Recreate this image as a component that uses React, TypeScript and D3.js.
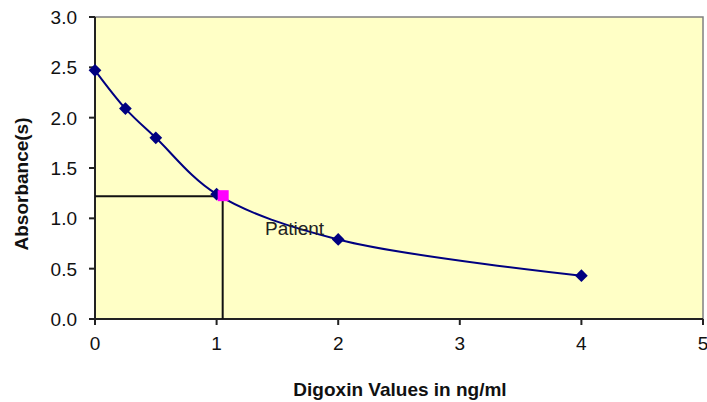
import React from 'react';
import * as d3 from 'd3';

const digoxin = [0, 0.25, 0.5, 1, 2, 4];
const absorbance = [2.47, 2.09, 1.8, 1.24, 0.79, 0.43];
const patient = { x: 1.05, y: 1.22, label: 'Patient' };
const xTicks = [0, 1, 2, 3, 4, 5];
const yTicks = [0, 0.5, 1, 1.5, 2, 2.5, 3];

const W = 707;
const H = 402;
const margin = { top: 17, right: 4, bottom: 83, left: 95 };

const App = () => {
  const x = d3.scaleLinear().domain([0, 5]).range([margin.left, W - margin.right]);
  const y = d3.scaleLinear().domain([0, 3]).range([H - margin.bottom, margin.top]);

  const pts = digoxin.map((d, i) => [d, absorbance[i]] as [number, number]);
  const line = d3.line<[number, number]>()
    .x(d => x(d[0]))
    .y(d => y(d[1]))
    .curve(d3.curveCatmullRom.alpha(0.5));

  const font = 'Liberation Sans, Arial, sans-serif';
  const x0 = x(0), y0 = y(0);

  return (
    <svg width={W} height={H} style={{ position: 'absolute', left: 0, top: 0 }} fontFamily={font}>
      <rect x={x0} y={y(3)} width={x(5) - x0} height={y0 - y(3)} fill="#ffffc6" stroke="#808080" strokeWidth={1.5} />
      {/* axes */}
      <line x1={x0} x2={x0} y1={y(3)} y2={y0} stroke="#222" strokeWidth={2} />
      <line x1={x0} x2={x(5)} y1={y0} y2={y0} stroke="#222" strokeWidth={2} />
      {yTicks.map(t => (
        <g key={'y' + t}>
          <line x1={x0 - 6} x2={x0} y1={y(t)} y2={y(t)} stroke="#222" strokeWidth={2} />
          <text x={x0 - 18} y={y(t)} dy="0.36em" textAnchor="end" fontSize={19} fill="#111">{t.toFixed(1)}</text>
        </g>
      ))}
      {xTicks.map(t => (
        <g key={'x' + t}>
          <line x1={x(t)} x2={x(t)} y1={y0} y2={y0 + 6} stroke="#222" strokeWidth={2} />
          <text x={x(t)} y={y0 + 31} textAnchor="middle" fontSize={19} fill="#111">{t}</text>
        </g>
      ))}
      {/* patient guide lines */}
      <line x1={x0} x2={x(patient.x)} y1={y(patient.y)} y2={y(patient.y)} stroke="#111" strokeWidth={2} />
      <line x1={x(patient.x)} x2={x(patient.x)} y1={y(patient.y)} y2={y0} stroke="#111" strokeWidth={2} />
      <path d={line(pts) || ''} fill="none" stroke="#000080" strokeWidth={2} />
      {pts.map((p, i) => (
        <rect key={i} x={x(p[0]) - 4.5} y={y(p[1]) - 4.5} width={9} height={9} fill="#000080"
          transform={`rotate(45 ${x(p[0])} ${y(p[1])})`} />
      ))}
      <rect x={x(patient.x) - 5} y={y(patient.y) - 6} width={11} height={11} fill="#ff00ff" />
      <text x={265} y={235} fontSize={19} fill="#222">{patient.label}</text>
      <text transform={`translate(28,184) rotate(-90)`} textAnchor="middle" fontSize={19} fontWeight="bold" fill="#111">Absorbance(s)</text>
      <text x={400} y={396} textAnchor="middle" fontSize={19} fontWeight="bold" fill="#111">Digoxin Values in ng/ml</text>
    </svg>
  );
};

export default App;
